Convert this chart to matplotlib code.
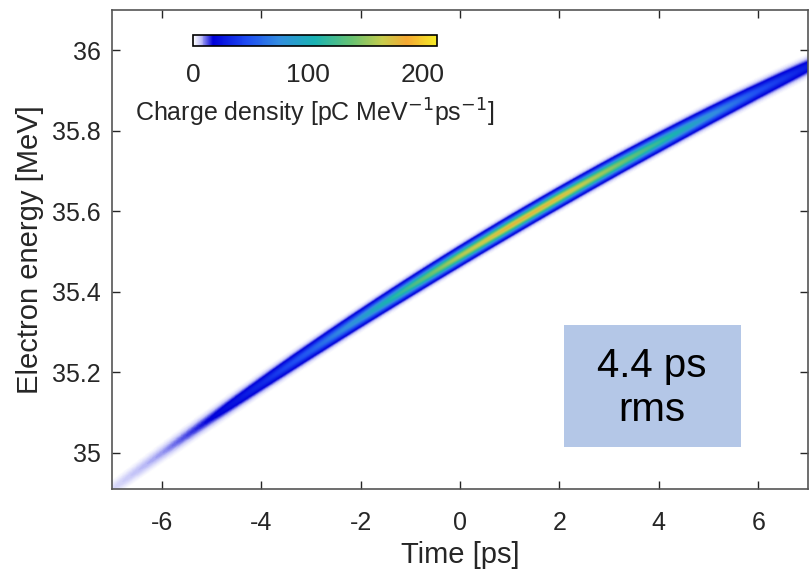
import numpy as np
import matplotlib
matplotlib.use("Agg")
import matplotlib.pyplot as plt
from matplotlib.colors import LinearSegmentedColormap
from matplotlib.patches import Rectangle

plt.rcParams['font.family'] = ['Liberation Sans', 'DejaVu Sans']
plt.rcParams['axes.unicode_minus'] = False

# ridge of the longitudinal phase space (time [ps] -> energy [MeV])
ridge_t = [-7, -4, 0, 4, 7]
ridge_E = [34.91, 35.17, 35.49, 35.77, 35.96]

# peak charge density along the bunch [pC MeV^-1 ps^-1]
peak_t = [-7, -6, -5, -4, -3, -2, -1, 0, 1, 2, 3, 4, 5, 6, 7]
peak_q = [4, 9, 18, 33, 55, 85, 125, 160, 178, 175, 150, 118, 80, 48, 28]

sigma_E = 0.012   # energy spread about the ridge [MeV]

xticks = [-6, -4, -2, 0, 2, 4, 6]
yticks = [35, 35.2, 35.4, 35.6, 35.8, 36]
cbar_ticks = [0, 100, 200]

# white -> deep blue -> teal -> green -> orange -> yellow
cmap = LinearSegmentedColormap.from_list("charge", [
    (0.00, (1.00, 1.00, 1.00)),
    (0.03, (0.75, 0.75, 0.97)),
    (0.08, (0.00, 0.00, 0.85)),
    (0.22, (0.12, 0.30, 0.95)),
    (0.35, (0.20, 0.55, 0.88)),
    (0.50, (0.10, 0.70, 0.70)),
    (0.65, (0.40, 0.76, 0.45)),
    (0.78, (0.78, 0.80, 0.30)),
    (0.88, (0.96, 0.66, 0.20)),
    (1.00, (0.96, 0.92, 0.15)),
])

xlim = (-7, 7)
ylim = (34.91, 36.1)
t = np.linspace(xlim[0], xlim[1], 900)
E = np.linspace(ylim[0], ylim[1], 900)
T, EE = np.meshgrid(t, E)

coef = np.polyfit(ridge_t, ridge_E, 2)
Ec = np.polyval(coef, T)
Q = np.interp(T, peak_t, peak_q)
rho = Q * np.exp(-(EE - Ec) ** 2 / (2 * sigma_E ** 2))

fig = plt.figure(figsize=(8.12, 5.73), dpi=100)
ax = fig.add_axes([0.138, 0.147, 0.857, 0.8355])
im = ax.imshow(rho, origin='lower', extent=[xlim[0], xlim[1], ylim[0], ylim[1]],
               aspect='auto', cmap=cmap, vmin=0, vmax=212, interpolation='bilinear')

grey = '#262626'
ax.set_xlim(xlim)
ax.set_ylim(ylim)
ax.set_xticks(xticks)
ax.set_yticks(yticks)
ax.set_yticklabels(['35', '35.2', '35.4', '35.6', '35.8', '36'])
ax.tick_params(direction='in', length=6, width=1, top=True, right=True,
               labelsize=18, colors=grey)
ax.tick_params(axis='y', pad=8)
ax.tick_params(axis='x', pad=16)
for s in ax.spines.values():
    s.set_color('#555555')
    s.set_linewidth(1.2)
ax.set_xlabel('Time [ps]', fontsize=21, color=grey, labelpad=4)
ax.set_ylabel('Electron energy [MeV]', fontsize=21, color=grey, labelpad=6)

# colorbar sitting inside the plot
cax = fig.add_axes([0.2377, 0.9197, 0.300, 0.0192])
cb = fig.colorbar(im, cax=cax, orientation='horizontal', ticks=cbar_ticks)
cb.outline.set_edgecolor('black')
cb.outline.set_linewidth(1.2)
cax.tick_params(length=0, labelsize=19, colors=grey, pad=12)
cb.set_label('Charge density [pC MeV$^{-1}$ps$^{-1}$]', fontsize=18, color=grey, labelpad=7)

# annotation box
ax.add_patch(Rectangle((0.649, 0.0877), 0.255, 0.254, transform=ax.transAxes,
                       facecolor='#B4C7E7', edgecolor='none', zorder=3))
ax.text(0.776, 0.210, '4.4 ps\nrms', transform=ax.transAxes, ha='center', va='center',
        fontsize=29, color='black', linespacing=1.2, zorder=4)

fig.savefig('out.png', dpi=100)
